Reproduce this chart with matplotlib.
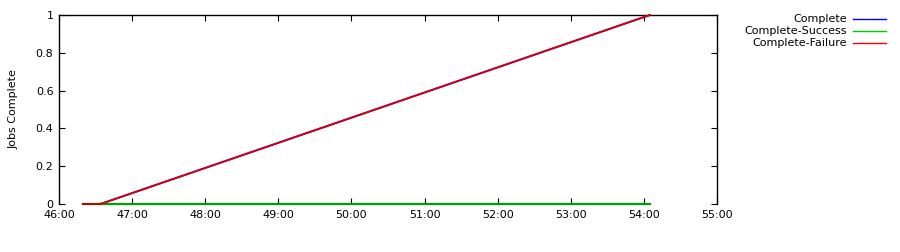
import matplotlib
matplotlib.use("Agg")
import matplotlib.pyplot as plt

# ---- data (mm:ss) ----
times_all = ["46:20", "46:34", "54:05"]
complete = [0, 0, 1]
failure = [0, 0, 1]
times_success = ["46:34", "54:05"]
success = [0, 0]
x_ticks = [46, 47, 48, 49, 50, 51, 52, 53, 54, 55]
y_ticks = [0, 0.2, 0.4, 0.6, 0.8, 1]


def to_min(s):
    m, sec = s.split(":")
    return int(m) + int(sec) / 60.0


plt.rcParams['font.family'] = ['DejaVu Sans']
fig = plt.figure(figsize=(9, 2.52), dpi=100)
ax = fig.add_axes([59 / 900, 1 - 204 / 252, (717 - 59) / 900, (204 - 15) / 252])

xa = [to_min(t) for t in times_all]
xs = [to_min(t) for t in times_success]
ax.plot(xa, complete, color="#0000ff", lw=1.3, label="Complete", zorder=2, clip_on=False)
ax.plot(xs, success, color="#00a000", lw=1.6, label="Complete-Success", zorder=3, clip_on=False)
ax.plot(xa, failure, color="#dd0000", lw=1.3, label="Complete-Failure", zorder=4, clip_on=False)
# flat start before the success series begins looks brownish in the original
ax.plot(xa[:2], failure[:2], color="#8b1a00", lw=1.6, zorder=5, clip_on=False)

ax.set_xlim(46, 55)
ax.set_ylim(0, 1)
ax.set_xticks(x_ticks)
ax.set_xticklabels([f"{m}:00" for m in x_ticks])
ax.set_yticks(y_ticks)
ax.set_yticklabels(["0", "0.2", "0.4", "0.6", "0.8", "1"])
ax.tick_params(direction="in", length=4, width=0.8, labelsize=8,
               top=True, right=True, pad=4)
ax.spines["bottom"].set_visible(False)
for s in ["left", "right", "top"]:
    ax.spines[s].set_linewidth(1)
ax.set_ylabel("Jobs Complete", fontsize=8, labelpad=12)

# legend outside on the right, gnuplot style
handles, labels = ax.get_legend_handles_labels()
leg_colors = ["#0000ff", "#00cc00", "#ff0000"]
for i, (lab, c) in enumerate(zip(labels, leg_colors)):
    y = 1 - (19 + 12 * i) / 252
    fig.text(847 / 900, y, lab, ha="right", va="center", fontsize=8)
    fig.add_artist(plt.Line2D([853 / 900, 886 / 900], [y, y], color=c, lw=1,
                              transform=fig.transFigure))

fig.savefig("out.png", dpi=100)
